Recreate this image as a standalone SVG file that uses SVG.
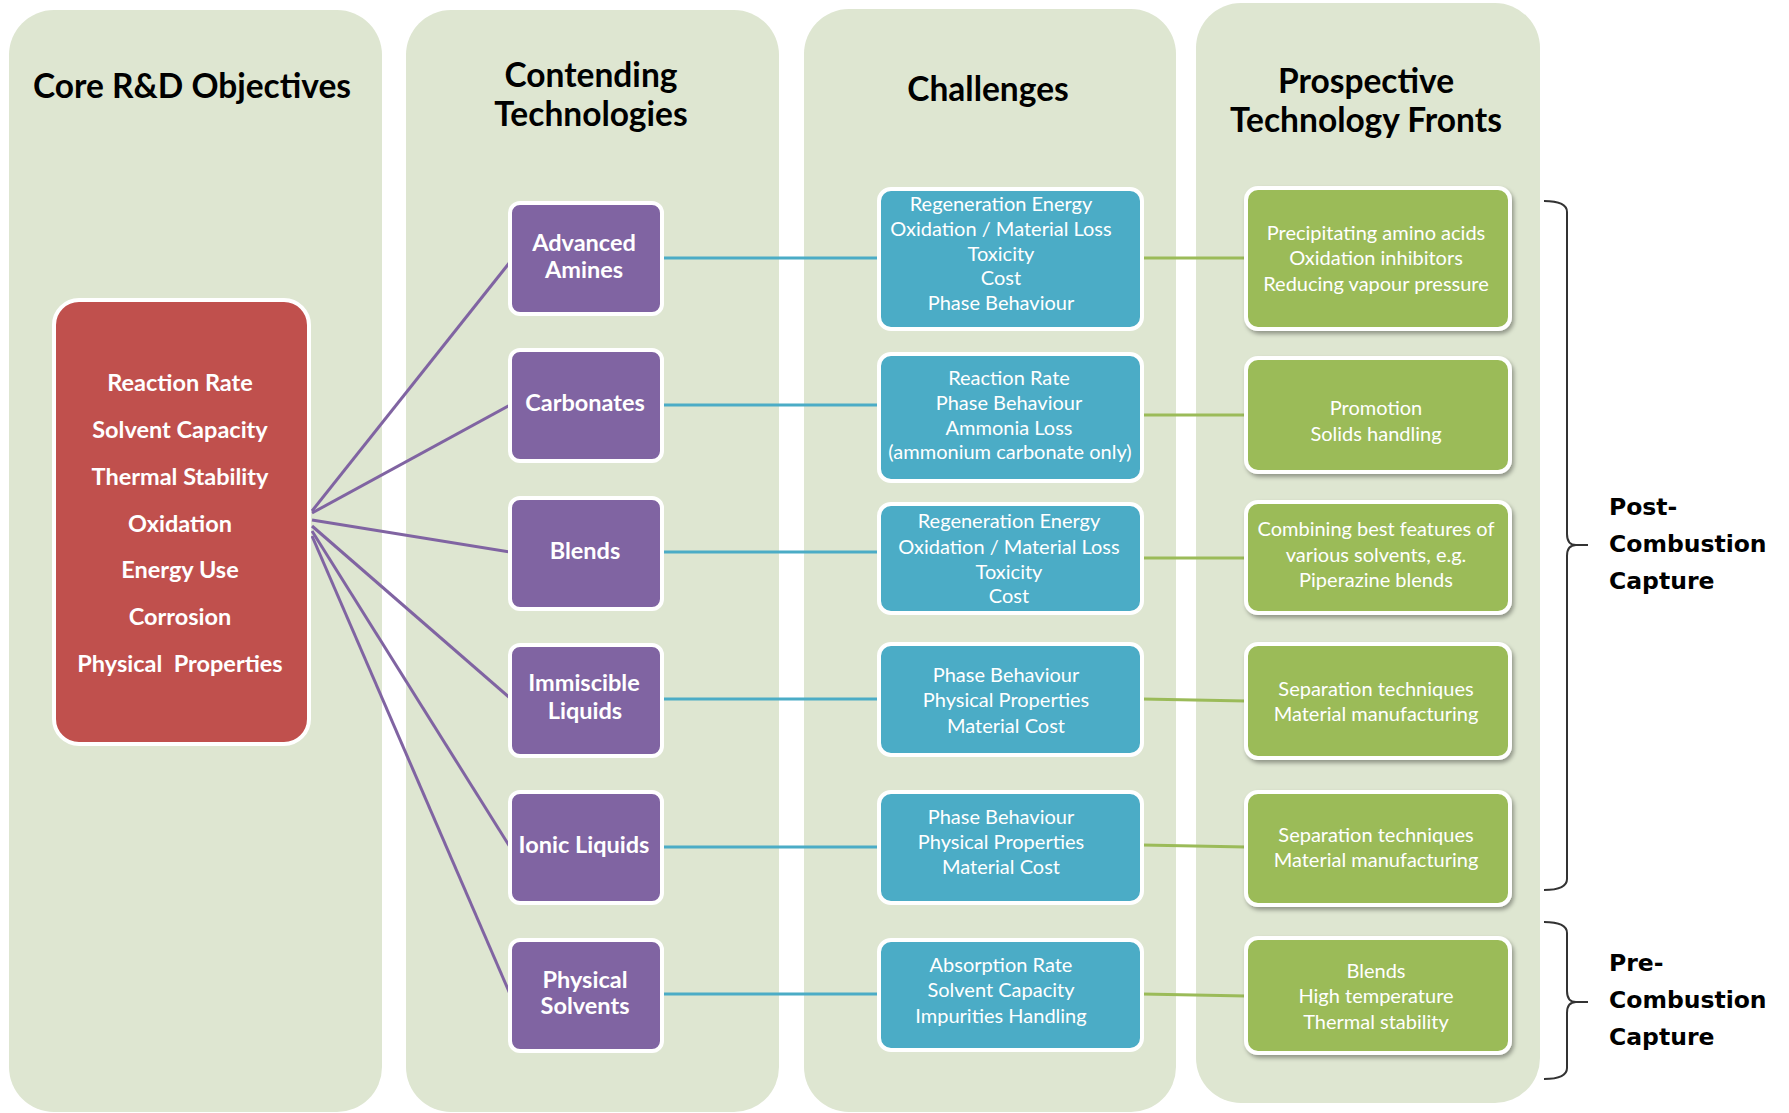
<svg xmlns="http://www.w3.org/2000/svg" width="1789" height="1113" viewBox="0 0 1789 1113">
<style>
.panel{fill:#DEE6D1}
.head{font-family:Lato,"Liberation Sans",sans-serif;font-weight:bold;font-size:33.5px;fill:#000;text-anchor:middle}
.red{fill:#C0504D;stroke:#fff;stroke-width:4}
.pur{fill:#8064A2;stroke:#fff;stroke-width:4}
.blu{fill:#4BACC6;stroke:#fff;stroke-width:4}
.grn{fill:#9BBB59;stroke:#fff;stroke-width:4;filter:url(#sh)}
.tb{font-family:Lato,"Liberation Sans",sans-serif;font-weight:bold;font-size:23.5px;fill:#fff;text-anchor:middle}
.t{font-family:Lato,"Liberation Sans",sans-serif;font-size:20px;fill:#fff;text-anchor:middle}
.lp{stroke:#8064A2;stroke-width:3;fill:none}
.lb{stroke:#4BACC6;stroke-width:3;fill:none}
.lg{stroke:#9BBB59;stroke-width:3;fill:none}
.br{stroke:#333;stroke-width:2;fill:none}
.lab{font-family:"DejaVu Sans",sans-serif;font-weight:bold;font-size:23.5px;fill:#000}
</style>
<defs>
<filter id="sh" x="-10%" y="-10%" width="125%" height="130%">
<feDropShadow dx="2" dy="3" stdDeviation="2" flood-color="#000" flood-opacity="0.35"/>
</filter>
</defs>
<rect width="1789" height="1113" fill="#fff"/>
<g id="panels">
<rect class="panel" x="9" y="10" width="373" height="1102" rx="45"/>
<rect class="panel" x="406" y="10" width="373" height="1102" rx="45"/>
<rect class="panel" x="804" y="9" width="372" height="1103" rx="45"/>
<rect class="panel" x="1196" y="3" width="344" height="1100" rx="45"/>
</g>
<g id="headings">
<text class="head" x="192" y="98">Core R&amp;D Objectives</text>
<text class="head" x="591" y="87">Contending</text>
<text class="head" x="591" y="126">Technologies</text>
<text class="head" x="988" y="101">Challenges</text>
<text class="head" x="1366" y="93">Prospective</text>
<text class="head" x="1366" y="132">Technology Fronts</text>
</g>
<g id="connectors">
<line class="lp" x1="312" y1="511" x2="510" y2="262"/>
<line class="lp" x1="312" y1="513" x2="510" y2="405"/>
<line class="lp" x1="312" y1="520" x2="510" y2="552"/>
<line class="lp" x1="312" y1="526" x2="510" y2="698"/>
<line class="lp" x1="312" y1="531" x2="510" y2="847"/>
<line class="lp" x1="312" y1="536" x2="510" y2="994"/>
<line class="lb" x1="662" y1="258" x2="879" y2="258"/>
<line class="lb" x1="662" y1="405" x2="879" y2="405"/>
<line class="lb" x1="662" y1="552" x2="879" y2="552"/>
<line class="lb" x1="662" y1="699" x2="879" y2="699"/>
<line class="lb" x1="662" y1="847" x2="879" y2="847"/>
<line class="lb" x1="662" y1="994" x2="879" y2="994"/>
<line class="lg" x1="1142" y1="258" x2="1246" y2="258"/>
<line class="lg" x1="1142" y1="415" x2="1246" y2="415"/>
<line class="lg" x1="1142" y1="558" x2="1246" y2="558"/>
<line class="lg" x1="1142" y1="699" x2="1246" y2="701"/>
<line class="lg" x1="1142" y1="845" x2="1246" y2="847"/>
<line class="lg" x1="1142" y1="994" x2="1246" y2="996"/>
</g>
<g id="objectives">
<rect class="red" x="54" y="300" width="255" height="444" rx="25"/>
<text class="tb" x="180" y="391">Reaction Rate</text>
<text class="tb" x="180" y="438">Solvent Capacity</text>
<text class="tb" x="180" y="485">Thermal Stability</text>
<text class="tb" x="180" y="532">Oxidation</text>
<text class="tb" x="180" y="578">Energy Use</text>
<text class="tb" x="180" y="625">Corrosion</text>
<text class="tb" x="180" y="672" style="white-space:pre">Physical  Properties</text>
</g>
<g id="tech-amines"><rect class="pur" x="510" y="203" width="152" height="111" rx="10"/><text class="tb" x="584" y="251">Advanced</text><text class="tb" x="584" y="278">Amines</text></g>
<g id="tech-carbonates"><rect class="pur" x="510" y="350" width="152" height="111" rx="10"/><text class="tb" x="585" y="411">Carbonates</text></g>
<g id="tech-blends"><rect class="pur" x="510" y="498" width="152" height="111" rx="10"/><text class="tb" x="585" y="559">Blends</text></g>
<g id="tech-immiscible"><rect class="pur" x="510" y="645" width="152" height="111" rx="10"/><text class="tb" x="584" y="691">Immiscible</text><text class="tb" x="585" y="719">Liquids</text></g>
<g id="tech-ionic"><rect class="pur" x="510" y="792" width="152" height="111" rx="10"/><text class="tb" x="584" y="853">Ionic Liquids</text></g>
<g id="tech-physical"><rect class="pur" x="510" y="940" width="152" height="111" rx="10"/><text class="tb" x="585" y="988">Physical</text><text class="tb" x="585" y="1014">Solvents</text></g>
<g id="chal-1"><rect class="blu" x="879" y="189" width="263" height="140" rx="12"/>
<text class="t" x="1001" y="211">Regeneration Energy</text><text class="t" x="1001" y="236">Oxidation / Material Loss</text><text class="t" x="1001" y="261">Toxicity</text><text class="t" x="1001" y="285">Cost</text><text class="t" x="1001" y="310">Phase Behaviour</text></g>
<g id="chal-2"><rect class="blu" x="879" y="354" width="263" height="127" rx="12"/>
<text class="t" x="1009" y="385">Reaction Rate</text><text class="t" x="1009" y="410">Phase Behaviour</text><text class="t" x="1009" y="435">Ammonia Loss</text><text class="t" x="1010" y="459">(ammonium carbonate only)</text></g>
<g id="chal-3"><rect class="blu" x="879" y="504" width="263" height="109" rx="12"/>
<text class="t" x="1009" y="528">Regeneration Energy</text><text class="t" x="1009" y="554">Oxidation / Material Loss</text><text class="t" x="1009" y="579">Toxicity</text><text class="t" x="1009" y="603">Cost</text></g>
<g id="chal-4"><rect class="blu" x="879" y="644" width="263" height="111" rx="12"/>
<text class="t" x="1006" y="682">Phase Behaviour</text><text class="t" x="1006" y="707">Physical Properties</text><text class="t" x="1006" y="733">Material Cost</text></g>
<g id="chal-5"><rect class="blu" x="879" y="792" width="263" height="111" rx="12"/>
<text class="t" x="1001" y="824">Phase Behaviour</text><text class="t" x="1001" y="849">Physical Properties</text><text class="t" x="1001" y="874">Material Cost</text></g>
<g id="chal-6"><rect class="blu" x="879" y="940" width="263" height="110" rx="12"/>
<text class="t" x="1001" y="972">Absorption Rate</text><text class="t" x="1001" y="997">Solvent Capacity</text><text class="t" x="1001" y="1023">Impurities Handling</text></g>
<g id="front-1"><rect class="grn" x="1246" y="188" width="264" height="141" rx="12"/>
<text class="t" x="1376" y="240">Precipitating amino acids</text><text class="t" x="1376" y="265">Oxidation inhibitors</text><text class="t" x="1376" y="291">Reducing vapour pressure</text></g>
<g id="front-2"><rect class="grn" x="1246" y="358" width="264" height="114" rx="12"/>
<text class="t" x="1376" y="415">Promotion</text><text class="t" x="1376" y="441">Solids handling</text></g>
<g id="front-3"><rect class="grn" x="1246" y="502" width="264" height="111" rx="12"/>
<text class="t" x="1376" y="536">Combining best features of</text><text class="t" x="1376" y="562">various solvents, e.g.</text><text class="t" x="1376" y="587">Piperazine blends</text></g>
<g id="front-4"><rect class="grn" x="1246" y="644" width="264" height="114" rx="12"/>
<text class="t" x="1376" y="696">Separation techniques</text><text class="t" x="1376" y="721">Material manufacturing</text></g>
<g id="front-5"><rect class="grn" x="1246" y="792" width="264" height="113" rx="12"/>
<text class="t" x="1376" y="842">Separation techniques</text><text class="t" x="1376" y="867">Material manufacturing</text></g>
<g id="front-6"><rect class="grn" x="1246" y="938" width="264" height="115" rx="12"/>
<text class="t" x="1376" y="978">Blends</text><text class="t" x="1376" y="1003">High temperature</text><text class="t" x="1376" y="1029">Thermal stability</text></g>
<g id="bracket-post">
<path class="br" d="M1544,201 Q1567,201 1567,212 L1567,534 Q1567,545 1576,545 L1588,545 M1576,545 Q1567,545 1567,556 L1567,879 Q1567,890 1544,890"/>
<text class="lab" x="1609" y="515">Post-</text><text class="lab" x="1609" y="552">Combustion</text><text class="lab" x="1609" y="589">Capture</text>
</g>
<g id="bracket-pre">
<path class="br" d="M1544,922 Q1567,922 1567,933 L1567,991 Q1567,1002 1576,1002 L1588,1002 M1576,1002 Q1567,1002 1567,1013 L1567,1068 Q1567,1079 1544,1079"/>
<text class="lab" x="1609" y="971">Pre-</text><text class="lab" x="1609" y="1008">Combustion</text><text class="lab" x="1609" y="1045">Capture</text>
</g>
</svg>
